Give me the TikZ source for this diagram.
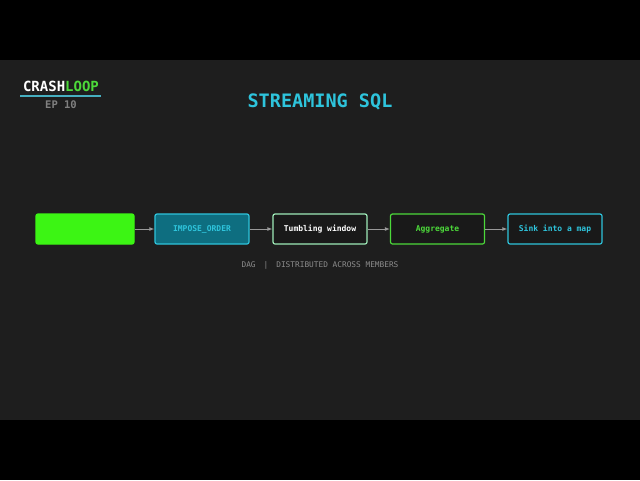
\documentclass[tikz,border=0pt]{standalone}
\usepackage{fontspec}
\setmonofont{DejaVu Sans Mono}
\usetikzlibrary{positioning,arrows.meta}
\definecolor{bg}{HTML}{1E1E1E}
\definecolor{lime}{HTML}{3CF514}
\definecolor{teal}{HTML}{0E6E80}
\definecolor{cyanb}{HTML}{2EC4DC}
\definecolor{mint}{HTML}{9EEBB8}
\definecolor{grn}{HTML}{4CD93A}
\tikzset{
  stage/.style={draw,rounded corners=2pt,line width=1.2pt,minimum width=94pt,minimum height=30pt,
    font=\ttfamily\bfseries\fontsize{8}{10}\selectfont,fill=black!90},
  flow/.style={-{Latex[length=5pt,width=4pt]},draw=gray!80,line width=1pt}
}
\begin{document}
\begin{tikzpicture}[x=1pt,y=-1pt]
\useasboundingbox (0,0) rectangle (640,480);
\fill[black] (0,0) rectangle (640,480);
\fill[bg] (0,60) rectangle (640,420);
% header
\node[font=\ttfamily\bfseries\fontsize{14}{16}\selectfont,text=white] (brand) at (61,86) {CRASH\textcolor{grn}{LOOP}};
\draw[cyanb!70!gray,line width=1.2pt] (20,96) -- (101,96);
\node[font=\ttfamily\bfseries\fontsize{10.5}{12}\selectfont,text=gray] (ep) at (61,105) {EP 10};
\node[font=\ttfamily\bfseries\fontsize{18.5}{22}\selectfont,text=cyanb] (title) at (320,102) {STREAMING SQL};
% pipeline
\node[stage,draw=lime,fill=lime,minimum width=98pt] (src) at (85,229) {};
\node[stage,draw=cyanb,fill=teal,text=cyanb] (order) at (202,229) {IMPOSE\_ORDER};
\node[stage,draw=mint,text=white] (window) at (320,229) {Tumbling window};
\node[stage,draw=grn,text=grn] (agg) at (437.5,229) {Aggregate};
\node[stage,draw=cyanb,text=cyanb] (sink) at (555,229) {Sink into a map};
\draw[flow] (src) -- (order);
\draw[flow] (order) -- (window);
\draw[flow] (window) -- (agg);
\draw[flow] (agg) -- (sink);
\node[font=\ttfamily\fontsize{7.8}{9}\selectfont,text=gray!90] (cap) at (320,265) {DAG\hspace{8pt}|\hspace{8pt}DISTRIBUTED ACROSS MEMBERS};
\end{tikzpicture}
\end{document}
